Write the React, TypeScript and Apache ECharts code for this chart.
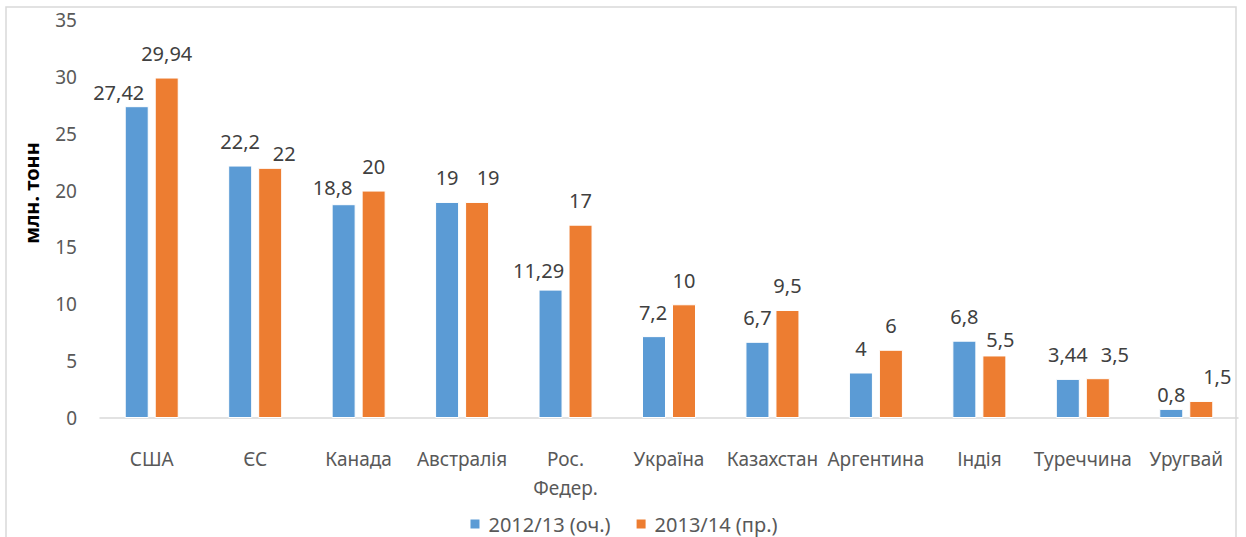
import React, { useEffect, useRef } from "react";
import * as echarts from "echarts";

const categories = ["США", "ЄС", "Канада", "Австралія", "Рос.\nФедер.", "Україна", "Казахстан", "Аргентина", "Індія", "Туреччина", "Уругвай"];
const series2012 = [27.42, 22.2, 18.8, 19, 11.29, 7.2, 6.7, 4, 6.8, 3.44, 0.8];
const series2013 = [29.94, 22, 20, 19, 17, 10, 9.5, 6, 5.5, 3.5, 1.5];
const seriesNames = ["2012/13 (оч.)", "2013/14 (пр.)"];
const yTitle = "млн. тонн";

// label nudges (style only), mimicking the reference's hand-placed labels
const labelShift2012 = [[-18, 10], [0, 0], [-11, 7], [0, 0], [-12, 5], [-1, 0], [0, 0], [0, 0], [0, 0], [0, 0], [0, 10]];
const labelShift2013 = [[0, 0], [14, 10], [0, 0], [11, 0], [0, 0], [0, 0], [0, 0], [0, 0], [6, 8], [17, 0], [16, 0]];

const FONT = "'Noto Sans', sans-serif";

export default function App() {
  const ref = useRef<HTMLDivElement>(null);
  useEffect(() => {
    if (!ref.current) return;
    const chart = echarts.init(ref.current, null, { renderer: "svg" });
    const fmt = (p: any) => String(p.value).replace(".", ",");
    const label = {
      show: true,
      position: "top",
      distance: 14,
      formatter: fmt,
      color: "#404040",
      fontSize: 20,
      fontFamily: FONT,
    };
    const build = (vals: number[], shifts: number[][]) =>
      vals.map((v, i) => ({ value: v, label: { offset: shifts[i] } }));
    chart.setOption({
      animation: false,
      textStyle: { fontFamily: FONT },
      grid: { left: 100, right: 8, top: 20, bottom: 119, containLabel: false },
      legend: {
        top: 509,
        left: "center",
        itemWidth: 11,
        itemHeight: 11,
        itemGap: 24,
        icon: "rect",
        textStyle: { fontSize: 20, color: "#595959", fontFamily: FONT, padding: [0, 0, 0, 3] },
        data: seriesNames,
      },
      xAxis: {
        type: "category",
        data: categories,
        axisLine: { lineStyle: { color: "#d9d9d9", width: 1.5 } },
        axisTick: { show: false },
        axisLabel: {
          interval: 0,
          margin: 26,
          fontSize: 19,
          lineHeight: 29,
          color: "#595959",
          fontFamily: FONT,
        },
      },
      yAxis: {
        type: "value",
        min: 0,
        max: 35,
        interval: 5,
        axisLine: { show: false },
        axisTick: { show: false },
        splitLine: { show: false },
        axisLabel: { margin: 23, fontSize: 19, color: "#595959", fontFamily: FONT },
      },
      graphic: [
        {
          type: "rect",
          shape: { x: 6, y: 7, width: 1230, height: 560 },
          style: { fill: "none", stroke: "#d9d9d9", lineWidth: 1.5 },
          silent: true,
        },
        {
          type: "text",
          x: 31,
          y: 193,
          rotation: Math.PI / 2,
          style: {
            text: yTitle,
            fontSize: 20,
            fontWeight: "bold",
            fontFamily: FONT,
            fill: "#000",
            align: "center",
            verticalAlign: "middle",
          },
        },
      ],
      series: [
        {
          name: seriesNames[0],
          type: "bar",
          data: build(series2012, labelShift2012),
          barWidth: 24,
          barGap: "25%",
          itemStyle: { color: "#5B9BD5", borderColor: "#fff", borderWidth: 1 },
          label,
        },
        {
          name: seriesNames[1],
          type: "bar",
          data: build(series2013, labelShift2013),
          barWidth: 24,
          barGap: "25%",
          itemStyle: { color: "#ED7D31", borderColor: "#fff", borderWidth: 1 },
          label,
        },
      ],
    });
    return () => chart.dispose();
  }, []);
  return (
    <div
      ref={ref}
      style={{ position: "fixed", left: 0, top: 0, width: 1246, height: 537, background: "#fff" }}
    />
  );
}
